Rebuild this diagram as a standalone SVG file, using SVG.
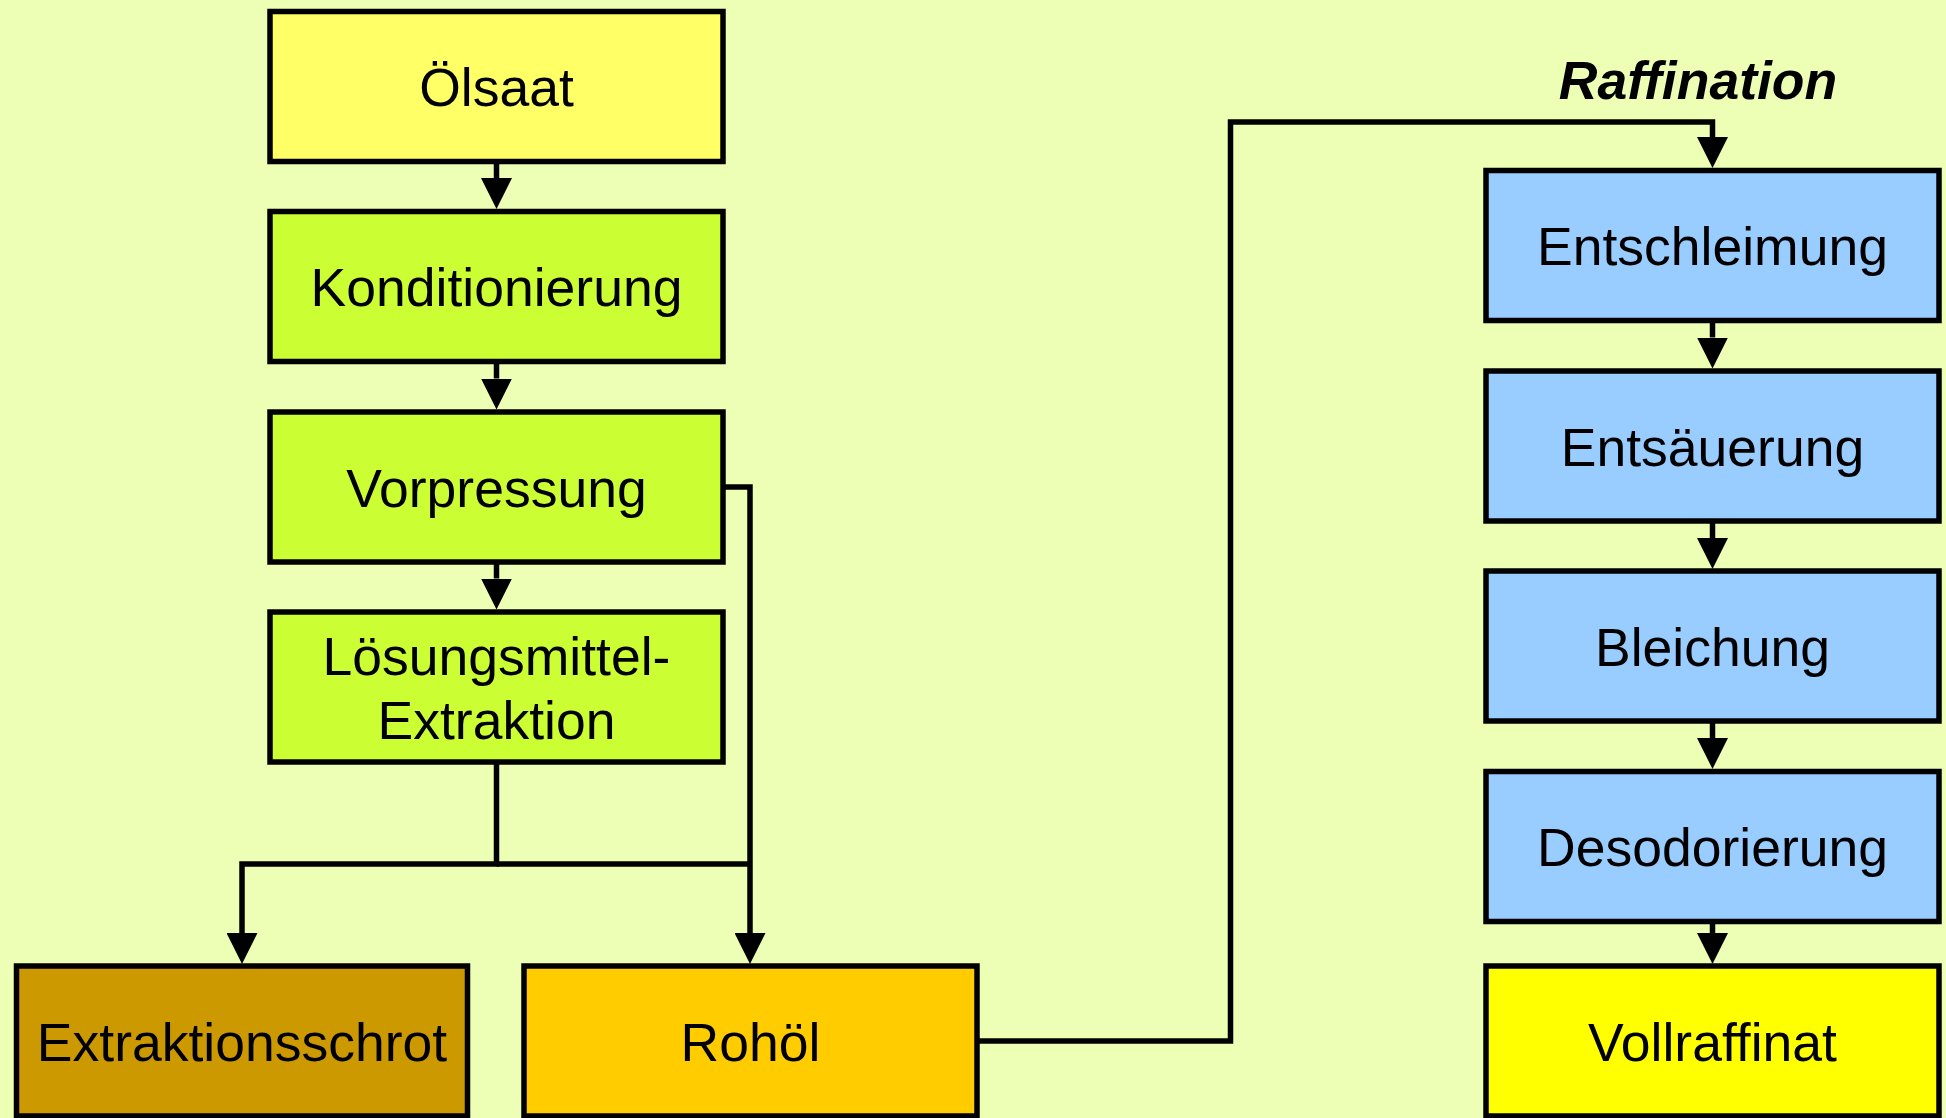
<svg xmlns="http://www.w3.org/2000/svg" width="1946" height="1118" viewBox="0 0 1946 1118">
<defs>
<style>
.box{stroke:#000;stroke-width:5.5}
.t{font-family:"Liberation Sans",Arial,sans-serif;font-size:53.5px;text-anchor:middle;fill:#000}
.c{fill:none;stroke:#000;stroke-width:5.5;stroke-linejoin:miter}
</style>
<marker id="ah" markerUnits="userSpaceOnUse" markerWidth="31" markerHeight="31" refX="0" refY="15.5" orient="auto">
<path d="M0,0 L31,15.5 L0,31 z" fill="#000"/>
</marker>
</defs>
<rect width="1946" height="1118" fill="#ECFFB5"/>
<g id="connectors">
<path class="c" d="M496.5,161.5 V178" marker-end="url(#ah)"/>
<path class="c" d="M496.5,361.5 V378.5" marker-end="url(#ah)"/>
<path class="c" d="M496.5,562 V578.5" marker-end="url(#ah)"/>
<path class="c" d="M496.5,762 V864 H242 V933" marker-end="url(#ah)"/>
<path class="c" d="M496.5,864 H750"/>
<path class="c" d="M723,487 H750 V933" marker-end="url(#ah)"/>
<path class="c" d="M977,1041 H1230.5 V122 H1712.5 V137" marker-end="url(#ah)"/>
<path class="c" d="M1712.5,320.5 V337.5" marker-end="url(#ah)"/>
<path class="c" d="M1712.5,521 V538" marker-end="url(#ah)"/>
<path class="c" d="M1712.5,721 V738" marker-end="url(#ah)"/>
<path class="c" d="M1712.5,921.5 V933" marker-end="url(#ah)"/>
</g>
<g id="oelsaat"><rect class="box" x="270" y="11.5" width="453" height="150" fill="#FFFF66"/><text class="t" x="496.5" y="106">Ölsaat</text></g>
<g id="konditionierung"><rect class="box" x="270" y="211.5" width="453" height="150" fill="#CCFF33"/><text class="t" x="496.5" y="306">Konditionierung</text></g>
<g id="vorpressung"><rect class="box" x="270" y="412" width="453" height="150" fill="#CCFF33"/><text class="t" x="496.5" y="506.5">Vorpressung</text></g>
<g id="extraktion"><rect class="box" x="270" y="612" width="453" height="150" fill="#CCFF33"/><text class="t" x="496.5" y="675">Lösungsmittel-</text><text class="t" x="496.5" y="739">Extraktion</text></g>
<g id="extraktionsschrot"><rect class="box" x="16.5" y="966" width="451" height="150" fill="#CC9900"/><text class="t" x="242" y="1060.5">Extraktionsschrot</text></g>
<g id="rohoel"><rect class="box" x="524" y="966" width="453" height="150" fill="#FFCC00"/><text class="t" x="750.5" y="1060.5">Rohöl</text></g>
<g id="raffination-label"><text x="1698" y="99" style="font-family:'Liberation Sans',Arial,sans-serif;font-size:53.5px;font-weight:bold;font-style:italic;text-anchor:middle">Raffination</text></g>
<g id="entschleimung"><rect class="box" x="1486" y="170.5" width="453" height="150" fill="#99CCFF"/><text class="t" x="1712.5" y="265">Entschleimung</text></g>
<g id="entsaeuerung"><rect class="box" x="1486" y="371" width="453" height="150" fill="#99CCFF"/><text class="t" x="1712.5" y="465.5">Entsäuerung</text></g>
<g id="bleichung"><rect class="box" x="1486" y="571" width="453" height="150" fill="#99CCFF"/><text class="t" x="1712.5" y="665.5">Bleichung</text></g>
<g id="desodorierung"><rect class="box" x="1486" y="771.5" width="453" height="150" fill="#99CCFF"/><text class="t" x="1712.5" y="866">Desodorierung</text></g>
<g id="vollraffinat"><rect class="box" x="1486" y="966" width="453" height="150" fill="#FFFF00"/><text class="t" x="1712.5" y="1060.5">Vollraffinat</text></g>
</svg>
